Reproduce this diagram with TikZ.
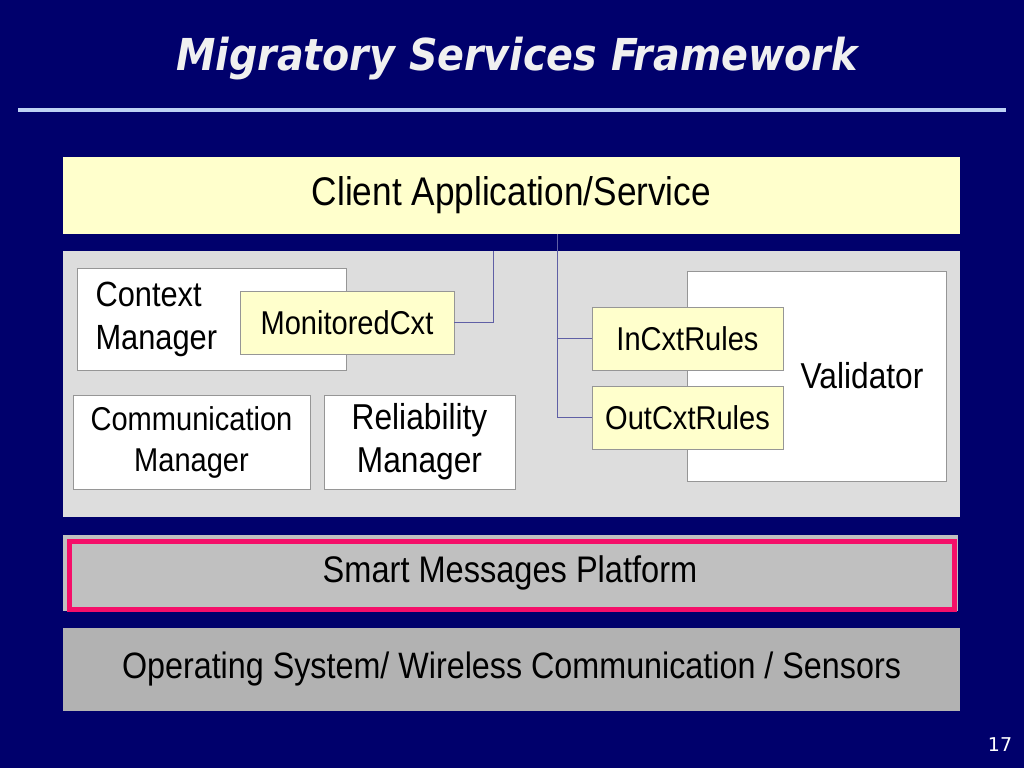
\documentclass[tikz,border=0pt]{standalone}
\usepackage{fontspec}
\setmainfont{Liberation Sans}[FakeStretch=0.88]
\newfontfamily\titlefont{DejaVu Sans}[FakeStretch=0.9]
\newfontfamily\numfont{DejaVu Sans}
\definecolor{slidebg}{RGB}{0,0,108}
\definecolor{rulecol}{RGB}{190,210,245}
\definecolor{paleyellow}{RGB}{255,255,204}
\definecolor{panelgray}{RGB}{221,221,221}
\definecolor{smartgray}{RGB}{192,192,192}
\definecolor{osgray}{RGB}{178,178,178}
\definecolor{smartpink}{RGB}{245,15,105}
\definecolor{boxedge}{RGB}{150,150,150}
\definecolor{linkcol}{RGB}{95,95,165}
\begin{document}
\begin{tikzpicture}[x=1pt,y=-1pt,
	layer/.style={anchor=north west, inner sep=0pt, outer sep=0pt},
	whitebox/.style={layer, fill=white, draw=boxedge, line width=0.8pt},
	yellowbox/.style={layer, fill=paleyellow, draw=boxedge, line width=0.8pt},
	link/.style={draw=linkcol, line width=1pt}]
	\newcommand{\mysize}[2]{\fontsize{#1}{#2}\selectfont}
	%Slide background
	\fill[slidebg] (0,0) rectangle (1024,768);
	\useasboundingbox (0,0) rectangle (1024,768);
	%Title and rule
	\coordinate (titlec) at (517,59);
	\node [text=white!94!black, font=\titlefont\mysize{44}{48}\bfseries\itshape] (title) at (titlec) {Migratory Services Framework};
	\coordinate (ruleL) at (18,110);
	\coordinate (ruleR) at (1006,110);
	\draw [rulecol, line width=4pt] (ruleL) -- (ruleR);
	%Client layer
	\node [layer, fill=paleyellow, minimum width=897, minimum height=77] (client) at (63,157) {};
	\node [font=\mysize{40}{44}] (clienttxt) at (client.center) {Client Application/Service};
	%Middleware panel
	\node [layer, fill=panelgray, minimum width=897, minimum height=266] (panel) at (63,251) {};
	%Context manager
	\node [whitebox, minimum width=269, minimum height=102] (ctxmgr) at (77,268) {};
	\node [anchor=west, align=left, font=\mysize{35}{43}] (ctxtxt) at (92,319) {Context\\Manager};
	\node [yellowbox, minimum width=214, minimum height=63] (monitored) at (240,291) {};
	\node [font=\mysize{33}{40}] (monitoredtxt) at (monitored.center) {MonitoredCxt};
	%Communication and reliability
	\node [whitebox, minimum width=237, minimum height=94] (commmgr) at (73,395) {};
	\node [align=center, font=\mysize{33}{41}] (commtxt) at (commmgr.center) {Communication\\Manager};
	\node [whitebox, minimum width=191, minimum height=94] (relmgr) at (324,395) {};
	\node [align=center, font=\mysize{36}{43}] (reltxt) at (relmgr.center) {Reliability\\Manager};
	%Validator
	\node [whitebox, minimum width=259, minimum height=210] (validator) at (687,271) {};
	\node [font=\mysize{36}{40}] (validtxt) at (862,376) {Validator};
	\node [yellowbox, minimum width=191, minimum height=63] (inrules) at (592,307) {};
	\node [font=\mysize{33}{40}] (inrulestxt) at (inrules.center) {InCxtRules};
	\node [yellowbox, minimum width=191, minimum height=63] (outrules) at (592,386) {};
	\node [font=\mysize{33}{40}] (outrulestxt) at (outrules.center) {OutCxtRules};
	%Links
	\coordinate (mtop) at (493,251);
	\coordinate (split) at (557,234);
	\draw [link] (monitored.east) -| (mtop);
	\draw [link] (split) |- (inrules.west);
	\draw [link] (split) |- (outrules.west);
	%Smart messages platform
	\node [layer, fill=smartgray, minimum width=895, minimum height=76] (smart) at (63,535) {};
	\draw [smartpink, line width=5pt] (69.5,541.5) rectangle (954.5,609.5);
	\node [font=\mysize{37}{40}] (smarttxt) at (510,573) {Smart Messages Platform};
	%Operating system
	\node [layer, fill=osgray, minimum width=897, minimum height=83] (os) at (63,628) {};
	\node [font=\mysize{36.7}{40}] (ostxt) at (os.center) {Operating System/ Wireless Communication / Sensors};
	%Slide number
	\node [text=white, font=\numfont\mysize{19}{22}] (pagenum) at (1000,745) {17};
\end{tikzpicture}
\end{document}
